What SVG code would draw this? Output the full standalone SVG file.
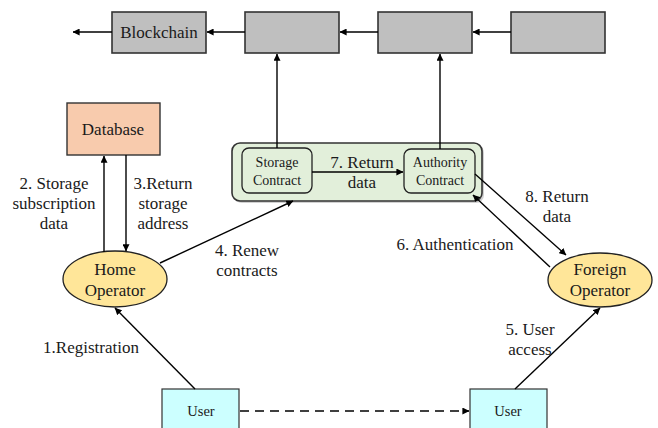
<svg xmlns="http://www.w3.org/2000/svg" width="658" height="428" viewBox="0 0 658 428" font-family="'Liberation Serif', 'DejaVu Serif', serif">
  <style>
    text { fill: #1a1a1a; text-anchor: middle; }
    .lbl { font-size: 17px; }
    .sm { font-size: 14px; }
    .usr { font-size: 14.5px; }
    .chain { fill: #bfbfbf; stroke: #333; stroke-width: 1.6; }
    .db { fill: #f8cbad; stroke: #333; stroke-width: 1.4; }
    .op { fill: #ffe699; stroke: #222; stroke-width: 1.3; }
    .user { fill: #ccffff; stroke: #333; stroke-width: 1.2; }
    .pool { fill: #e2efda; stroke: #333; stroke-width: 1.6; }
    .ctr { fill: #e2efda; stroke: #222; stroke-width: 1.3; }
    .edge { fill: none; stroke: #000; stroke-width: 1.4; marker-end: url(#arr); }
    .dash { stroke-dasharray: 9 6; }
  </style>
  <defs>
    <marker id="arr" viewBox="0 0 10 10" refX="9.5" refY="5" markerWidth="7" markerHeight="7" orient="auto" markerUnits="userSpaceOnUse">
      <path d="M0,0 L10,5 L0,10 Z" fill="#000"/>
    </marker>
  </defs>

  <!-- blockchain row -->
  <g id="block1"><rect class="chain" x="112" y="12" width="94" height="41"/><text class="lbl" x="159" y="38">Blockchain</text></g>
  <g id="block2"><rect class="chain" x="245" y="12" width="94" height="41"/></g>
  <g id="block3"><rect class="chain" x="378" y="12" width="94" height="41"/></g>
  <g id="block4"><rect class="chain" x="511" y="12" width="94" height="41"/></g>

  <!-- database -->
  <g id="database"><rect class="db" x="67" y="103" width="93" height="52"/><text class="lbl" x="113" y="135">Database</text></g>

  <!-- contract container -->
  <g id="contracts">
    <rect x="234" y="145" width="250" height="58" rx="8" fill="#9a9a9a" opacity="0.45"/>
    <rect class="pool" x="232" y="143" width="250" height="58" rx="8"/>
  </g>
  <g id="storage-contract"><rect class="ctr" x="242" y="148" width="70" height="45" rx="7"/><text class="sm" x="277" y="167">Storage</text><text class="sm" x="277" y="185">Contract</text></g>
  <g id="authority-contract"><rect class="ctr" x="404" y="149" width="71" height="44" rx="7"/><text class="sm" x="440" y="167">Authority</text><text class="sm" x="440" y="185">Contract</text></g>

  <!-- operators -->
  <g id="home-operator"><ellipse class="op" cx="115" cy="279" rx="52" ry="28"/><text class="lbl" x="115" y="275">Home</text><text class="lbl" x="115" y="296">Operator</text></g>
  <g id="foreign-operator"><ellipse class="op" cx="600" cy="280" rx="52" ry="27"/><text class="lbl" x="600" y="275">Foreign</text><text class="lbl" x="600" y="296">Operator</text></g>

  <!-- users -->
  <g id="user-home"><rect class="user" x="162" y="389" width="77" height="45"/><text class="usr" x="201" y="416">User</text></g>
  <g id="user-foreign"><rect class="user" x="470" y="389" width="77" height="45"/><text class="usr" x="508" y="416">User</text></g>

  <!-- connectors -->
  <g id="connectors">
    <line class="edge" x1="112" y1="32" x2="73" y2="32"/>
    <line class="edge" x1="245" y1="32" x2="207" y2="32"/>
    <line class="edge" x1="378" y1="32" x2="340" y2="32"/>
    <line class="edge" x1="511" y1="32" x2="473" y2="32"/>
    <line class="edge" x1="277" y1="148" x2="277" y2="54"/>
    <line class="edge" x1="440" y1="149" x2="440" y2="54"/>
    <line class="edge" x1="104" y1="252" x2="104" y2="156"/>
    <line class="edge" x1="126" y1="155" x2="126" y2="251"/>
    <line class="edge" x1="160" y1="263" x2="293" y2="201"/>
    <line class="edge" x1="312" y1="172" x2="403" y2="172"/>
    <line class="edge" x1="475" y1="174" x2="566" y2="255"/>
    <line class="edge" x1="550" y1="267" x2="473" y2="195"/>
    <line class="edge" x1="195" y1="389" x2="115" y2="308"/>
    <line class="edge" x1="515" y1="389" x2="600" y2="308"/>
    <line class="edge dash" x1="240" y1="411" x2="469" y2="411"/>
  </g>

  <!-- step labels -->
  <g id="labels">
    <text class="lbl" x="54" y="189">2. Storage</text>
    <text class="lbl" x="54" y="209">subscription</text>
    <text class="lbl" x="54" y="229">data</text>
    <text class="lbl" x="163" y="189">3.Return</text>
    <text class="lbl" x="163" y="209">storage</text>
    <text class="lbl" x="163" y="229">address</text>
    <text class="lbl" x="247" y="256">4. Renew</text>
    <text class="lbl" x="247" y="276">contracts</text>
    <text class="lbl" x="455" y="250">6. Authentication</text>
    <text class="lbl" x="362" y="168">7. Return</text>
    <text class="lbl" x="362" y="188">data</text>
    <text class="lbl" x="557" y="202">8. Return</text>
    <text class="lbl" x="557" y="222">data</text>
    <text class="lbl" x="91" y="353">1.Registration</text>
    <text class="lbl" x="530" y="335">5. User</text>
    <text class="lbl" x="530" y="355">access</text>
  </g>
</svg>
